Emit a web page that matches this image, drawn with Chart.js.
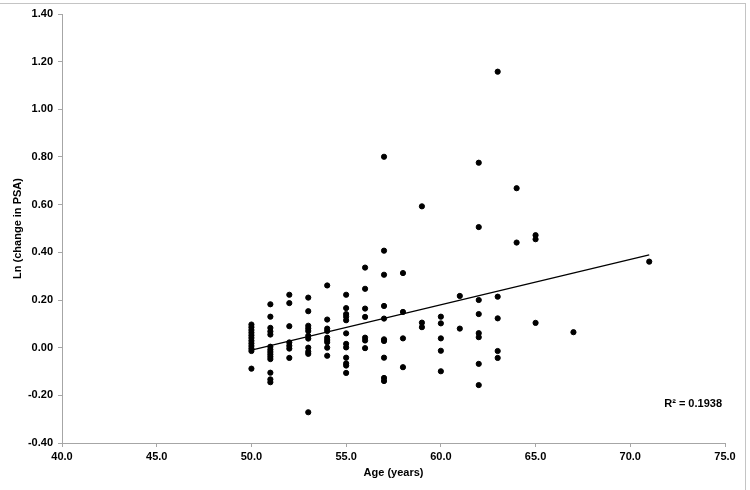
<!DOCTYPE html>
<html>
<head>
<meta charset="utf-8">
<script src="https://cdn.jsdelivr.net/npm/chart.js@4/dist/chart.umd.min.js"></script>
<style>
  body { margin: 0; background: #fff; }
  #wrap { position: relative; width: 750px; height: 490px; }
  #frame { position: absolute; left: -1px; top: 3px; width: 745px; height: 490px; border: 1px solid #c4c4c4; pointer-events: none; }
</style>
</head>
<body>
<div id="wrap">
  <canvas id="myChart" width="750" height="490"></canvas>
  <div id="frame"></div>
</div>
<script>
// ages that have measurements, and the ln(change in PSA) values read for each age
const ages = [50, 51, 52, 53, 54, 55, 56, 57, 58, 59, 60, 61, 62, 63, 64, 65, 67, 71];
const lnChange = [
  [0.097, 0.086, 0.074, 0.063, 0.052, 0.041, 0.029, 0.018, 0.007, -0.004, -0.014, -0.088],
  [0.182, 0.130, 0.083, 0.068, 0.055, 0.004, -0.008, -0.018, -0.028, -0.038, -0.048, -0.105, -0.133, -0.145],
  [0.222, 0.187, 0.090, 0.022, 0.008, -0.004, -0.043],
  [0.210, 0.153, 0.092, 0.081, 0.070, 0.050, 0.038, 0.000, -0.017, -0.026, -0.271],
  [0.261, 0.118, 0.080, 0.070, 0.042, 0.032, 0.023, 0.000, -0.034],
  [0.222, 0.166, 0.141, 0.130, 0.115, 0.060, 0.016, 0.001, -0.042, -0.066, -0.075, -0.106],
  [0.336, 0.247, 0.164, 0.129, 0.042, 0.030, -0.002],
  [0.801, 0.407, 0.306, 0.175, 0.122, 0.035, 0.028, -0.042, -0.127, -0.140],
  [0.313, 0.150, 0.039, -0.082],
  [0.593, 0.105, 0.086],
  [0.130, 0.102, 0.039, -0.013, -0.099],
  [0.217, 0.080],
  [0.776, 0.506, 0.200, 0.141, 0.061, 0.044, -0.068, -0.157],
  [1.158, 0.214, 0.123, -0.014, -0.043],
  [0.669, 0.441],
  [0.472, 0.455, 0.104],
  [0.065],
  [0.361]
];

// linear trendline as drawn on the original
const trendAges = [50, 71];
const trendValues = [-0.010, 0.389];
const rSquared = '0.1938';

const points = [];
ages.forEach((age, i) => {
  lnChange[i].forEach(v => points.push({ x: age, y: v }));
});
const trend = trendAges.map((a, i) => ({ x: a, y: trendValues[i] }));

const font = { family: 'Liberation Sans, Arial, sans-serif', size: 11, weight: 'bold' };

// avoid "-0.00" from floating point steps
function fmt(v, d) {
  const n = Math.abs(v) < 1e-9 ? 0 : v;
  return Number(n).toFixed(d);
}

// R squared label in the lower right of the plot
const r2Label = {
  id: 'r2Label',
  afterDatasetsDraw(chart) {
    const area = chart.chartArea;
    const ctx = chart.ctx;
    ctx.save();
    ctx.fillStyle = '#000';
    ctx.font = 'bold 11px Liberation Sans, Arial, sans-serif';
    ctx.textAlign = 'right';
    ctx.textBaseline = 'middle';
    ctx.fillText('R\u00b2 = ' + rSquared, area.right - 3, area.bottom - 39);
    ctx.restore();
  }
};

var ctx = document.getElementById('myChart').getContext('2d');
var chart = new Chart(ctx, {
  type: 'scatter',
  data: {
    datasets: [
      {
        label: 'Ln (change in PSA)',
        data: points,
        backgroundColor: '#000',
        borderColor: '#000',
        pointRadius: 2.6,
        pointHoverRadius: 2.6
      },
      {
        type: 'line',
        label: 'Trend',
        data: trend,
        borderColor: '#000',
        borderWidth: 1.2,
        pointRadius: 0,
        fill: false
      }
    ]
  },
  options: {
    responsive: false,
    animation: false,
    layout: { padding: { left: 8, right: 25, top: 14, bottom: 8 } },
    plugins: { legend: { display: false }, tooltip: { enabled: false } },
    scales: {
      x: {
        type: 'linear',
        min: 40,
        max: 75,
        ticks: { stepSize: 5, color: '#000', font: font, padding: 3, maxRotation: 0,
          callback: v => fmt(v, 1) },
        grid: { drawOnChartArea: false, drawTicks: true, tickLength: 4, color: '#a6a6a6' },
        border: { color: '#a6a6a6', width: 1 },
        title: { display: true, text: 'Age (years)', color: '#000', font: font, padding: { top: 2, bottom: 2 } },
        afterFit: s => { s.height = 39; }
      },
      y: {
        min: -0.4,
        max: 1.4,
        ticks: { stepSize: 0.2, color: '#000', font: font, padding: 5,
          callback: v => fmt(v, 2) },
        grid: { drawOnChartArea: false, drawTicks: true, tickLength: 4, color: '#a6a6a6' },
        border: { color: '#a6a6a6', width: 1 },
        title: { display: true, text: 'Ln (change in PSA)', color: '#000', font: font, padding: { top: 3, bottom: 3 } },
        afterFit: s => { s.width = 54; }
      }
    }
  },
  plugins: [r2Label]
});
</script>
</body>
</html>
